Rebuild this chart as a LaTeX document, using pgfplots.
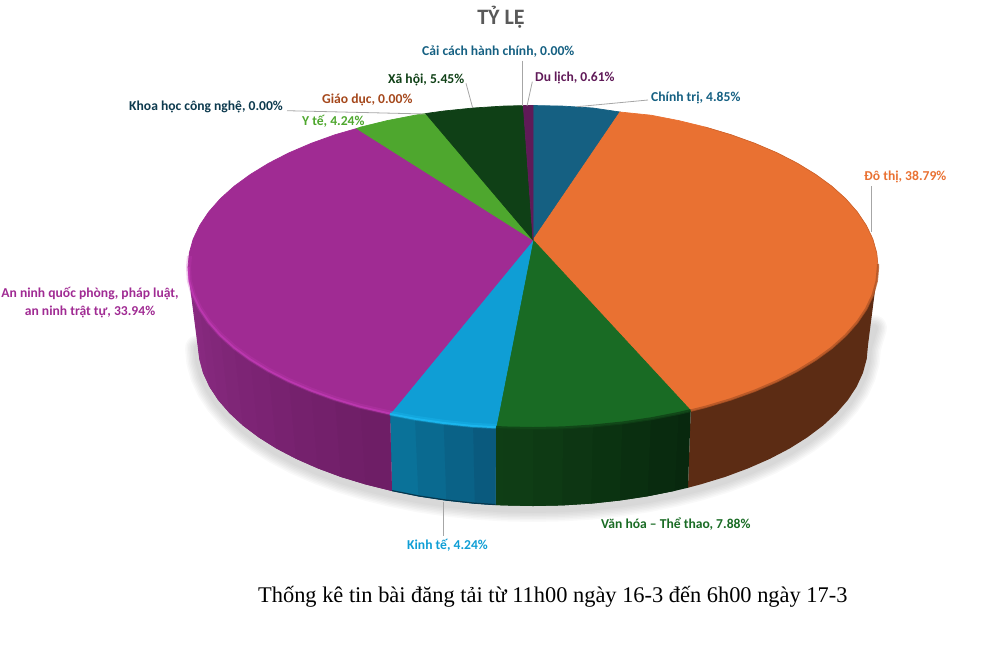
\documentclass[border=0pt]{standalone}
\usepackage{pgfplots}
\usepackage{pgfplotstable}
\pgfplotsset{compat=1.18}
\usepackage{fontspec}
\setmainfont{Carlito}
\newfontfamily\capfont{Liberation Serif}
\definecolor{cChinh}{HTML}{156082}
\definecolor{cDo}{HTML}{E97132}
\definecolor{cVan}{HTML}{196B24}
\definecolor{cKinh}{HTML}{0F9ED5}
\definecolor{cAn}{HTML}{A02B93}
\definecolor{cY}{HTML}{4EA72E}
\definecolor{cKhoa}{HTML}{0D3A4E}
\definecolor{cGiao}{HTML}{A5481C}
\definecolor{cXa}{HTML}{0F4016}
\definecolor{cDu}{HTML}{601A58}
\definecolor{sDo}{HTML}{5C2C14}
\definecolor{sAnA}{HTML}{8C2B84}
\definecolor{sAnB}{HTML}{6E1E66}
\definecolor{sVanA}{HTML}{0F3E15}
\definecolor{sVanB}{HTML}{08280E}
\definecolor{sKinhA}{HTML}{0A7299}
\definecolor{sKinhB}{HTML}{0A5A7E}
\definecolor{lead}{HTML}{A6A6A6}
\definecolor{hAn}{HTML}{C63CBA}
\definecolor{hKinh}{HTML}{1CB8F0}
\newcommand\face[2]{\addplot[fill=#1,draw=#1,line width=.7pt] coordinates {#2} -- cycle;}
\newcommand\strip[2]{\addplot[fill=#1,draw=none] coordinates {#2} -- cycle;}
\newcommand\lab[5]{\node[anchor=#1,text=#2,font=\fontsize{13.6}{15}\selectfont\bfseries,inner sep=0pt] at (axis cs:#3,#4) {#5};}
\pgfplotstableread{
x y
874 325
868 345
866.7 359
862.9 373
856.6 386.7
847.8 400.1
836.6 413
823.1 425.5
807.4 437.3
789.6 448.5
769.9 458.8
748.3 468.3
725.2 476.9
700.5 484.4
674.6 490.9
647.6 496.3
619.7 500.5
591.2 503.6
562.2 505.4
533 506
503.8 505.4
474.8 503.6
446.3 500.5
418.4 496.3
391.4 490.9
365.5 484.4
340.8 476.9
317.7 468.3
296.1 458.8
276.4 448.5
258.6 437.3
242.9 425.5
229.4 413
218.2 400.1
209.4 386.7
203.1 373
199.3 359
198 345
}\shadowpts
\begin{document}
\begin{tikzpicture}
\path[use as bounding box] (0,0) rectangle (990pt,649pt);
\begin{axis}[at={(0,0)},anchor=south west,scale only axis,width=990pt,height=649pt,
  xmin=0,xmax=990,ymin=0,ymax=649,y dir=reverse,hide axis]
% shadow
\addplot[black,opacity=.022,line width=26pt,line cap=round,line join=round] table[y expr=\thisrow{y}+3] {\shadowpts};
\addplot[black,opacity=.022,line width=23pt,line cap=round,line join=round] table[y expr=\thisrow{y}+3] {\shadowpts};
\addplot[black,opacity=.022,line width=20pt,line cap=round,line join=round] table[y expr=\thisrow{y}+3] {\shadowpts};
\addplot[black,opacity=.022,line width=17pt,line cap=round,line join=round] table[y expr=\thisrow{y}+3] {\shadowpts};
\addplot[black,opacity=.022,line width=14pt,line cap=round,line join=round] table[y expr=\thisrow{y}+3] {\shadowpts};
\addplot[black,opacity=.022,line width=11pt,line cap=round,line join=round] table[y expr=\thisrow{y}+3] {\shadowpts};
\addplot[black,opacity=.022,line width=8pt,line cap=round,line join=round] table[y expr=\thisrow{y}+3] {\shadowpts};
% side: orange
\strip{sDo}{(878,267)(876.7,281.1)(872.8,295)(866.2,308.8)(857.2,322.2)(845.7,335.3)(831.8,347.8)(815.6,359.6)(797.3,370.8)(777,381.2)(754.8,390.7)(730.9,399.3)(705.5,406.9)(690.7,410.6)(688,487.7)(700.5,484.4)(725.2,476.9)(748.3,468.3)(769.9,458.8)(789.6,448.5)(807.4,437.3)(823.1,425.5)(836.6,413)(847.8,400.1)(856.6,386.7)(862.9,373)(866.7,359)(868,345)}
% side: green strips, each reaching under the next
\strip{sVanB}{(690.7,410.6)(678.8,413.4)(651,418.8)(647.6,496.3)(674.6,490.9)(688,487.7)}
\strip{sVanA!12!sVanB}{(678.8,413.4)(651,418.8)(622.3,423)(619.7,500.5)(647.6,496.3)(674.6,490.9)}
\strip{sVanA!30!sVanB}{(651,418.8)(622.3,423)(592.9,426)(591.2,503.6)(619.7,500.5)(647.6,496.3)}
\strip{sVanA!48!sVanB}{(622.3,423)(592.9,426)(563.1,427.9)(562.2,505.4)(591.2,503.6)(619.7,500.5)}
\strip{sVanA!65!sVanB}{(592.9,426)(563.1,427.9)(533,428.5)(533,506)(562.2,505.4)(591.2,503.6)}
\strip{sVanA!82!sVanB}{(563.1,427.9)(533,428.5)(502.9,427.9)(503.8,505.4)(533,506)(562.2,505.4)}
\strip{sVanA!95!sVanB}{(533,428.5)(502.9,427.9)(496,427.2)(495.5,505)(503.8,505.4)(533,506)}
\strip{sVanA}{(502.9,427.9)(496,427.2)(495.5,505)(503.8,505.4)}
% side: blue strips
\strip{sKinhA}{(390,414)(415,418.8)(443.7,423)(446.3,500.5)(418.4,496.3)(392,491)}
\strip{sKinhA!66!sKinhB}{(415,418.8)(443.7,423)(473.1,426)(474.8,503.6)(446.3,500.5)(418.4,496.3)}
\strip{sKinhA!33!sKinhB}{(443.7,423)(473.1,426)(496,427.2)(495.5,505)(474.8,503.6)(446.3,500.5)}
\strip{sKinhB}{(473.1,426)(496,427.2)(495.5,505)(474.8,503.6)}
% side: purple strips
\strip{sAnA}{(188,267)(189.3,281.1)(193.2,295)(203.1,373)(199.3,359)(198,345)}
\strip{sAnA!90!sAnB}{(189.3,281.1)(193.2,295)(199.8,308.8)(209.4,386.7)(203.1,373)(199.3,359)}
\strip{sAnA!82!sAnB}{(193.2,295)(199.8,308.8)(208.8,322.2)(218.2,400.1)(209.4,386.7)(203.1,373)}
\strip{sAnA!74!sAnB}{(199.8,308.8)(208.8,322.2)(220.3,335.3)(229.4,413)(218.2,400.1)(209.4,386.7)}
\strip{sAnA!66!sAnB}{(208.8,322.2)(220.3,335.3)(234.2,347.8)(242.9,425.5)(229.4,413)(218.2,400.1)}
\strip{sAnA!58!sAnB}{(220.3,335.3)(234.2,347.8)(250.4,359.6)(258.6,437.3)(242.9,425.5)(229.4,413)}
\strip{sAnA!50!sAnB}{(234.2,347.8)(250.4,359.6)(268.7,370.8)(276.4,448.5)(258.6,437.3)(242.9,425.5)}
\strip{sAnA!42!sAnB}{(250.4,359.6)(268.7,370.8)(289,381.2)(296.1,458.8)(276.4,448.5)(258.6,437.3)}
\strip{sAnA!33!sAnB}{(268.7,370.8)(289,381.2)(311.2,390.7)(317.7,468.3)(296.1,458.8)(276.4,448.5)}
\strip{sAnA!25!sAnB}{(289,381.2)(311.2,390.7)(335.1,399.3)(340.8,476.9)(317.7,468.3)(296.1,458.8)}
\strip{sAnA!16!sAnB}{(311.2,390.7)(335.1,399.3)(360.5,406.9)(365.5,484.4)(340.8,476.9)(317.7,468.3)}
\strip{sAnA!8!sAnB}{(335.1,399.3)(360.5,406.9)(390,414)(392,491)(365.5,484.4)(340.8,476.9)}
\strip{sAnB}{(360.5,406.9)(390,414)(392,491)(365.5,484.4)}
% blue bottom rim
\addplot[color=sKinhB!60!black,line width=1.2pt] coordinates {(392,490.6)(418.4,495.9)(446.3,500.1)(474.8,503.2)(495.5,504.6)};
% top faces
\face{cChinh}{(533,240)(533,105.5)(563.1,106.1)(592.9,108)(620,112)}
\face{cDo}{(533,240)(620,112)(651,115.2)(678.8,120.6)(705.5,127.1)(730.9,134.7)(754.8,143.3)(777,152.8)(797.3,163.2)(815.6,174.4)(831.8,186.2)(845.7,198.7)(857.2,211.8)(866.2,225.2)(872.8,239)(876.7,252.9)(878,267)(876.7,281.1)(872.8,295)(866.2,308.8)(857.2,322.2)(845.7,335.3)(831.8,347.8)(815.6,359.6)(797.3,370.8)(777,381.2)(754.8,390.7)(730.9,399.3)(705.5,406.9)(690.7,410.6)}
\face{cVan}{(533,240)(690.7,410.6)(678.8,413.4)(651,418.8)(622.3,423)(592.9,426)(563.1,427.9)(533,428.5)(502.9,427.9)(496,427.2)}
\face{cKinh}{(533,240)(496,427.2)(473.1,426)(443.7,423)(415,418.8)(390,414)}
\face{cAn}{(533,240)(390,414)(387.2,413.4)(360.5,406.9)(335.1,399.3)(311.2,390.7)(289,381.2)(268.7,370.8)(250.4,359.6)(234.2,347.8)(220.3,335.3)(208.8,322.2)(199.8,308.8)(193.2,295)(189.3,281.1)(188,267)(189.3,252.9)(193.2,239)(199.8,225.2)(208.8,211.8)(220.3,198.7)(234.2,186.2)(250.4,174.4)(268.7,163.2)(289,152.8)(311.2,143.3)(335.1,134.7)(356.7,128.5)}
\face{cY}{(533,240)(356.7,128.5)(360.5,127.1)(387.2,120.6)(415,115.2)(425.7,113.5)}
\face{cXa}{(533,240)(425.7,113.5)(443.7,111)(473.1,108)(502.9,106.1)(523.3,105.6)}
\face{cDu}{(533,240)(523.3,105.6)(533,105.5)}
% bevel rims
\addplot[color=hAn,opacity=.25,line width=5pt] coordinates {(390,413)(360.5,406.3)(335.1,398.7)(311.2,390.1)(289,380.6)(268.7,370.2)(250.4,359)(234.2,347.2)(220.3,334.7)(208.8,321.6)(199.8,308.2)(193.2,294.4)(189.3,280.5)(188.5,267)(189.5,256)};
\addplot[color=hAn,opacity=.65,line width=2pt] coordinates {(390,413.6)(360.5,406.9)(335.1,399.3)(311.2,390.7)(289,381.2)(268.7,370.8)(250.4,359.6)(234.2,347.8)(220.3,335.3)(208.8,322.2)(199.8,308.8)(193.2,295)(189.3,281.1)(188.5,267)};
\addplot[color=hKinh,opacity=.35,line width=5pt] coordinates {(496,426.5)(473.1,425.3)(443.7,422.3)(415,418.1)(390,413.3)};
\addplot[color=hKinh,opacity=.9,line width=2pt] coordinates {(496,427.2)(473.1,426)(443.7,423)(415,418.8)(390,414)};
\addplot[color=cVan!60!black,opacity=.8,line width=3pt] coordinates {(690.7,410.6)(678.8,413.4)(651,418.8)(622.3,423)(592.9,426)(563.1,427.9)(533,428.5)(502.9,427.9)(496,427.2)};
\addplot[color=cDo!60!sDo,opacity=.8,line width=2.4pt] coordinates {(878,264)(878,267)(876.7,281.1)(872.8,295)(866.2,308.8)(857.2,322.2)(845.7,335.3)(831.8,347.8)(815.6,359.6)(797.3,370.8)(777,381.2)(754.8,390.7)(730.9,399.3)(705.5,406.9)(690.7,410.6)};
\addplot[color=cDo!60!sDo,opacity=.6,line width=.5pt] coordinates {(705.5,127.1)(730.9,134.7)(754.8,143.3)(777,152.8)(797.3,163.2)(815.6,174.4)(831.8,186.2)(845.7,198.7)(857.2,211.8)(866.2,225.2)(872.8,239)(876.7,252.9)(878,264)};
% leader lines
\addplot[color=lead,line width=.8pt] coordinates {(577,106.7)(648,100)};
\addplot[color=lead,line width=.8pt] coordinates {(871.5,231.7)(871.5,186)};
\addplot[color=lead,line width=.8pt] coordinates {(443.3,502)(443.3,536)};
\addplot[color=lead,line width=.8pt] coordinates {(287,110.7)(425.7,114)};
\addplot[color=lead,line width=.8pt] coordinates {(466,83.3)(472.7,108)};
\addplot[color=lead,line width=.8pt] coordinates {(522.3,60.7)(522.3,106)};
\addplot[color=lead,line width=.8pt] coordinates {(532.3,81.7)(527,106)};
% labels
\node[text=black!65,font=\fontsize{22}{24}\selectfont\bfseries,inner sep=0pt] at (axis cs:501,17.5) {TỶ LỆ};
\lab{west}{cChinh}{422}{52}{Cải cách hành chính, 0.00\%}
\lab{west}{cXa}{388}{80}{Xã hội, 5.45\%}
\lab{west}{cDu}{535}{78}{Du lịch, 0.61\%}
\lab{west}{cGiao}{322}{100}{Giáo dục, 0.00\%}
\lab{west}{cChinh}{651}{98}{Chính trị, 4.85\%}
\lab{west}{cKhoa}{129}{107}{Khoa học công nghệ, 0.00\%}
\lab{west}{cY}{302}{121}{Y tế, 4.24\%}
\lab{west}{cDo}{864}{176.5}{Đô thị, 38.79\%}
\lab{center}{cAn}{90}{294}{An ninh quốc phòng, pháp luật,}
\lab{center}{cAn}{90}{312}{an ninh trật tự, 33.94\%}
\lab{west}{cVan}{601}{524}{Văn hóa – Thể thao, 7.88\%}
\lab{west}{cKinh}{407}{545}{Kinh tế, 4.24\%}
\node[anchor=west,text=black,font=\fontsize{22.4}{24}\selectfont\capfont,inner sep=0pt] at (axis cs:258,596.5) {Thống kê tin bài đăng tải từ 11h00 ngày 16-3 đến 6h00 ngày 17-3};
\end{axis}
\end{tikzpicture}
\end{document}
